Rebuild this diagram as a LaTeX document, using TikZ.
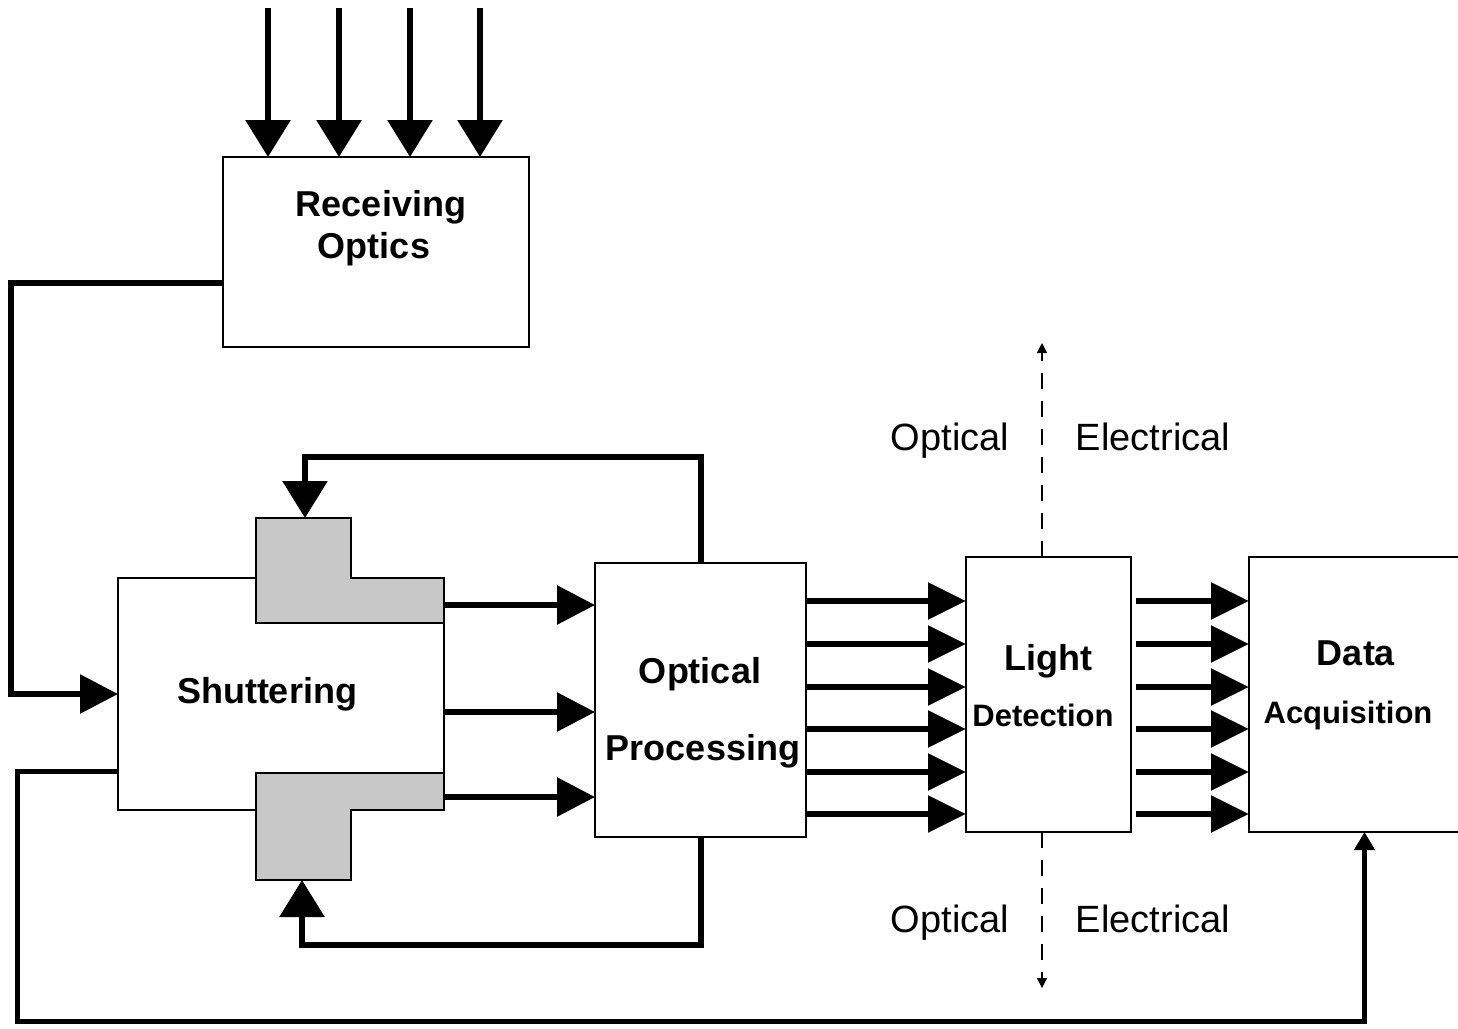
\documentclass[tikz,border=0pt]{standalone}
\usepackage{fontspec}
\setmainfont{Liberation Sans}
\usetikzlibrary{arrows.meta}
\definecolor{shade}{RGB}{200,200,200}
\tikzset{
  box/.style={draw, line width=0.75pt, inner sep=0pt, outer sep=0pt},
  graybox/.style={draw, line width=0.75pt, fill=shade},
  conn/.style={line width=3pt},
  bigtip/.style={conn, -{Triangle[length=18.5pt,width=22pt]}},
  medtip/.style={conn, -{Triangle[length=19pt,width=19pt]}},
  sixtip/.style={conn, -{Triangle[length=19pt,width=18pt]}},
  smalltip/.style={line width=2.5pt, -{Triangle[length=9pt,width=10pt]}},
  divider/.style={line width=0.6pt, dash pattern=on 8pt off 6pt, -{Triangle[length=5pt,width=5pt]}},
  bold/.style={font={\bfseries\fontsize{18}{20}\selectfont}, anchor=base, inner sep=0pt},
  boldsm/.style={font={\bfseries\fontsize{15.5}{18}\selectfont}, anchor=base, inner sep=0pt},
  thin/.style={font={\fontsize{19}{22}\selectfont}, anchor=base, inner sep=0pt},
}
\begin{document}
\begin{tikzpicture}[x=0.5pt,y=-0.5pt]
\clip (0,0) rectangle (1458,1029);
\fill[white] (0,0) rectangle (1458,1029);

% boxes
\node[box, minimum width=153pt, minimum height=95pt] (ro) at (376,252) {};
\node[box, minimum width=163pt, minimum height=116pt] (sh) at (281,694) {};
\node[box, minimum width=105.5pt, minimum height=137pt] (op) at (700.5,700) {};
\node[box, minimum width=82.5pt, minimum height=137.5pt] (ld) at (1048.5,694.5) {};
\node[box, minimum width=115.5pt, minimum height=137.5pt] (da) at (1364.5,694.5) {};

% gray shutter pieces
\draw[graybox] (256,518) -- (351,518) -- (351,578) -- (444,578) -- (444,623) -- (256,623) -- cycle;
\draw[graybox] (256,773) -- (444,773) -- (444,810) -- (351,810) -- (351,880) -- (256,880) -- cycle;
\coordinate (gTop) at (305,518);
\coordinate (gBot) at (302,880);

% labels
\node[bold] (tRec) at (381,216) {Receiving};
\node[bold] (tOpt) at (374,258) {Optics};
\node[bold] (tSh) at (267,703) {Shuttering};
\node[bold] (tOp1) at (700,683) {Optical};
\node[bold] (tOp2) at (703,760) {Processing};
\node[bold] (tLi) at (1048,670) {Light};
\node[boldsm] (tDe) at (1043,726) {Detection};
\node[bold] (tDa) at (1356,665) {Data};
\node[boldsm] (tAc) at (1348,723) {Acquisition};
\node[thin] (oT) at (950,450) {Optical};
\node[thin] (eT) at (1153,450) {Electrical};
\node[thin] (oB) at (950,932) {Optical};
\node[thin] (eB) at (1153,932) {Electrical};

% incoming light
\foreach \x [count=\i] in {268,339,410,480} {
  \coordinate (In\i) at (\x,8);
  \draw[bigtip] (In\i) -- (In\i |- ro.north);
}

% receiving optics -> shuttering
\coordinate (roOut) at (223,283);
\coordinate (L1) at (11,694);
\draw[medtip] (roOut) -| (L1) -- (sh.west);

% shuttering -> optical processing
\foreach \y [count=\i] in {605,712,797} {
  \coordinate (S\i) at (0,\y);
  \draw[medtip] (sh.east |- S\i) -- (op.west |- S\i);
}

% optical processing -> light detection -> data acquisition
\foreach \y [count=\i] in {601,644,687,729,772,814} {
  \coordinate (Y\i) at (0,\y);
  \draw[sixtip] (op.east |- Y\i) -- (ld.west |- Y\i);
  \draw[sixtip, shorten <=2.5pt] (ld.east |- Y\i) -- (da.west |- Y\i);
}

% feedback loops from optical processing
\coordinate (Ftop) at (0,457);
\coordinate (Fbot) at (0,945);
\draw[bigtip] (op.north) -- (op.north |- Ftop) -| (gTop);
\draw[bigtip] (op.south) -- (op.south |- Fbot) -| (gBot);

% shuttering -> data acquisition
\coordinate (S771) at (0,771);
\coordinate (L2) at (17,1021);
\draw[smalltip] (sh.west |- S771) -| (L2) -| (da.south);

% optical / electrical divider
\coordinate (dTop) at (1042,343);
\coordinate (dBot) at (1042,988);
\draw[divider] (dTop |- ld.north) -- (dTop);
\draw[divider] (dBot |- ld.south) -- (dBot);
\end{tikzpicture}
\end{document}
